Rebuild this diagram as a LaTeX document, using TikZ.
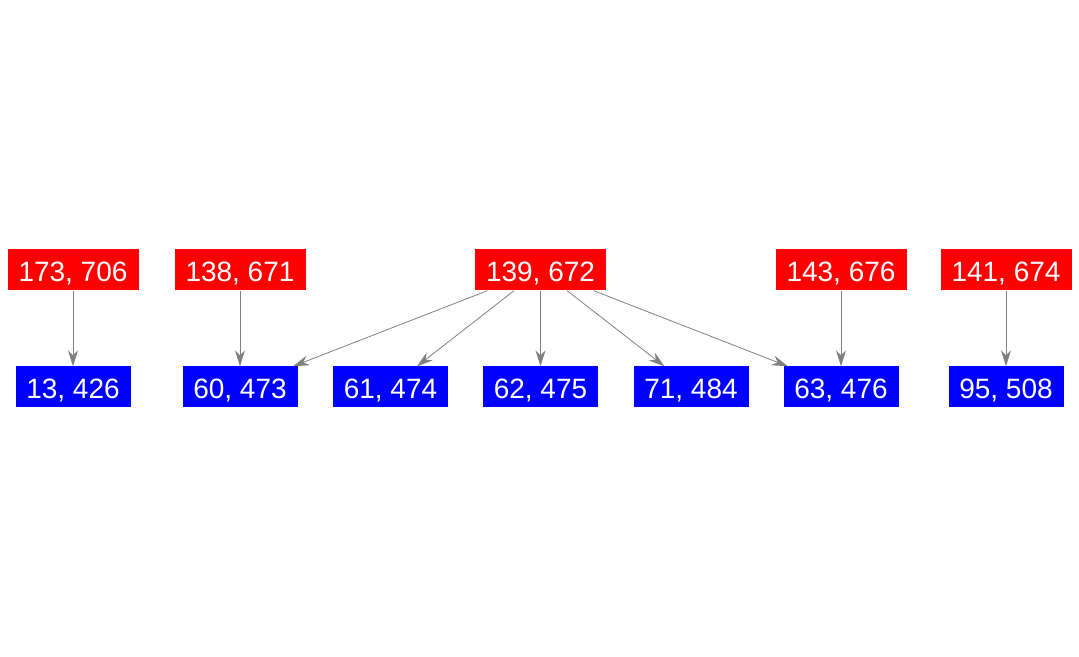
\documentclass[tikz,border=0pt]{standalone}
\usepackage{fontspec}
\setmainfont{Liberation Sans}
\usetikzlibrary{arrows.meta}
\begin{document}
\begin{tikzpicture}[x=1pt,y=1pt,
    redbox/.style={fill=red, text=white, minimum width=131pt, minimum height=41pt, inner sep=0pt, text height=23pt, text depth=0pt, font=\fontsize{28}{28}\selectfont},
    bluebox/.style={fill=blue, text=white, minimum width=115pt, minimum height=41pt, inner sep=0pt, text height=23pt, text depth=0pt, font=\fontsize{28}{28}\selectfont},
    link/.style={draw=gray, line width=0.8pt, -{Stealth[length=16pt,width=10pt]}}]
    \useasboundingbox (0,0) rectangle (1079,656);
    % top row
    \node[redbox] (r173) at (73,386) {173, 706};
    \node[redbox] (r138) at (240,386) {138, 671};
    \node[redbox] (r139) at (540.5,386) {139, 672};
    \node[redbox] (r143) at (841,386) {143, 676};
    \node[redbox] (r141) at (1006,386) {141, 674};
    % bottom row
    \node[bluebox] (b13) at (73,269) {13, 426};
    \node[bluebox] (b60) at (240,269) {60, 473};
    \node[bluebox] (b61) at (390.5,269) {61, 474};
    \node[bluebox] (b62) at (540.5,269) {62, 475};
    \node[bluebox] (b71) at (691,269) {71, 484};
    \node[bluebox] (b63) at (841,269) {63, 476};
    \node[bluebox] (b95) at (1006,269) {95, 508};
    % edges
    \draw[link] (r173) -- (b13);
    \draw[link] (r138) -- (b60);
    \draw[link] (r139) -- (b60);
    \draw[link] (r139) -- (b61);
    \draw[link] (r139) -- (b62);
    \draw[link] (r139) -- (b71);
    \draw[link] (r139) -- (b63);
    \draw[link] (r143) -- (b63);
    \draw[link] (r141) -- (b95);
\end{tikzpicture}
\end{document}
